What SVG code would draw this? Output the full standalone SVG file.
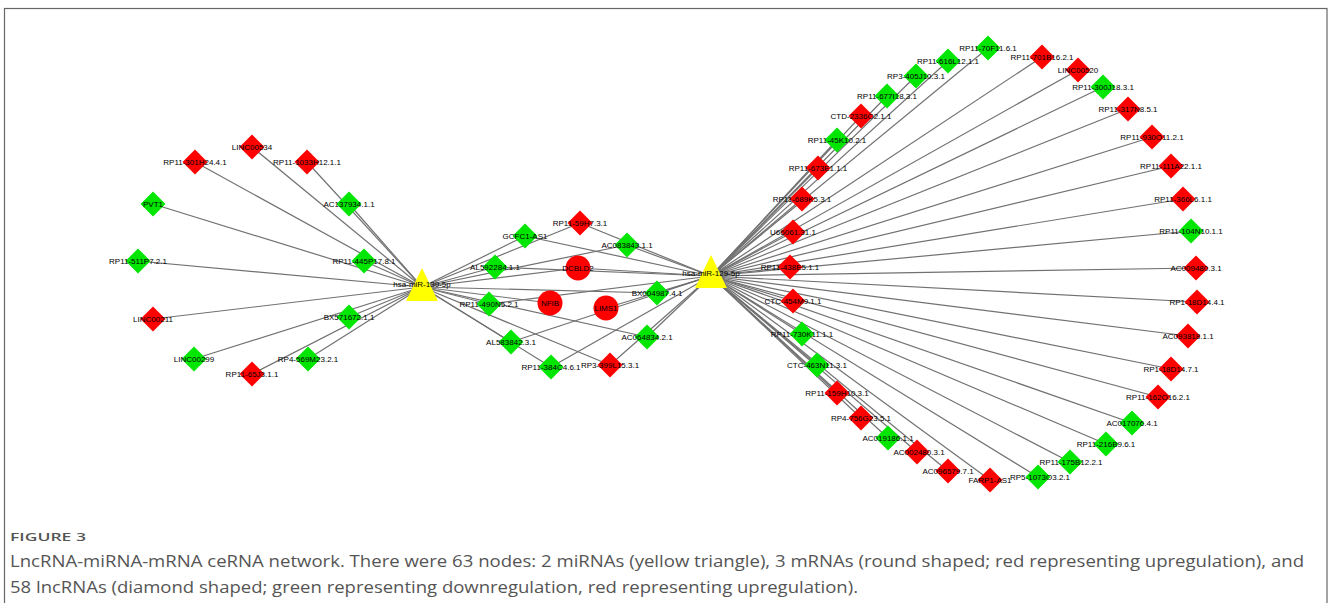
<svg xmlns="http://www.w3.org/2000/svg" xmlns:xlink="http://www.w3.org/1999/xlink" width="1328" height="603" viewBox="0 0 1328 603">
<style>
.e{stroke:#717171;stroke-width:1.2;fill:none}
.lb{font-family:"Liberation Sans",Arial,sans-serif;font-size:8px;fill:#000;text-anchor:middle;dominant-baseline:central}
.cap{font-family:"Open Sans","Liberation Sans",sans-serif;fill:#555}
</style>
<defs>
<polygon id="dr" points="0,-12.5 12.5,0 0,12.5 -12.5,0" fill="#FF0000"/>
<polygon id="dg" points="0,-12.5 12.5,0 0,12.5 -12.5,0" fill="#00E600"/>
<circle id="cr" r="12.5" fill="#FF0000"/>
<polygon id="tri" points="0,-19 -16,14 16,14" fill="#FFFF00"/>
</defs>
<rect x="4.5" y="8.5" width="1322.5" height="610" fill="#fff" stroke="#666" stroke-width="1.2"/>
<g id="connectors">
<line class="e" x1="422" y1="287" x2="252" y2="147"/>
<line class="e" x1="422" y1="287" x2="195" y2="162"/>
<line class="e" x1="422" y1="287" x2="307" y2="162"/>
<line class="e" x1="422" y1="287" x2="349" y2="204"/>
<line class="e" x1="422" y1="287" x2="153" y2="204"/>
<line class="e" x1="422" y1="287" x2="138" y2="261"/>
<line class="e" x1="422" y1="287" x2="364" y2="261"/>
<line class="e" x1="422" y1="287" x2="153" y2="319"/>
<line class="e" x1="422" y1="287" x2="349" y2="317"/>
<line class="e" x1="422" y1="287" x2="194" y2="359"/>
<line class="e" x1="422" y1="287" x2="308" y2="359"/>
<line class="e" x1="422" y1="287" x2="252" y2="374"/>
<line class="e" x1="422" y1="287" x2="525" y2="236"/>
<line class="e" x1="422" y1="287" x2="580" y2="223"/>
<line class="e" x1="422" y1="287" x2="627" y2="245"/>
<line class="e" x1="422" y1="287" x2="495" y2="267"/>
<line class="e" x1="422" y1="287" x2="657" y2="293"/>
<line class="e" x1="422" y1="287" x2="489" y2="304"/>
<line class="e" x1="422" y1="287" x2="511" y2="342"/>
<line class="e" x1="422" y1="287" x2="647" y2="337"/>
<line class="e" x1="422" y1="287" x2="551" y2="367"/>
<line class="e" x1="422" y1="287" x2="610" y2="365"/>
<line class="e" x1="422" y1="287" x2="578" y2="268"/>
<line class="e" x1="422" y1="287" x2="550" y2="303"/>
<line class="e" x1="711" y1="276" x2="525" y2="236"/>
<line class="e" x1="711" y1="276" x2="580" y2="223"/>
<line class="e" x1="711" y1="276" x2="627" y2="245"/>
<line class="e" x1="711" y1="276" x2="495" y2="267"/>
<line class="e" x1="711" y1="276" x2="657" y2="293"/>
<line class="e" x1="711" y1="276" x2="489" y2="304"/>
<line class="e" x1="711" y1="276" x2="511" y2="342"/>
<line class="e" x1="711" y1="276" x2="647" y2="337"/>
<line class="e" x1="711" y1="276" x2="551" y2="367"/>
<line class="e" x1="711" y1="276" x2="610" y2="365"/>
<line class="e" x1="711" y1="276" x2="578" y2="268"/>
<line class="e" x1="711" y1="276" x2="606" y2="308"/>
<line class="e" x1="711" y1="276" x2="988" y2="48"/>
<line class="e" x1="711" y1="276" x2="948" y2="61"/>
<line class="e" x1="711" y1="276" x2="916" y2="76"/>
<line class="e" x1="711" y1="276" x2="887" y2="96"/>
<line class="e" x1="711" y1="276" x2="861" y2="116"/>
<line class="e" x1="711" y1="276" x2="837" y2="140"/>
<line class="e" x1="711" y1="276" x2="818" y2="168"/>
<line class="e" x1="711" y1="276" x2="802" y2="199"/>
<line class="e" x1="711" y1="276" x2="793" y2="232"/>
<line class="e" x1="711" y1="276" x2="790" y2="267"/>
<line class="e" x1="711" y1="276" x2="793" y2="301"/>
<line class="e" x1="711" y1="276" x2="802" y2="334"/>
<line class="e" x1="711" y1="276" x2="817" y2="365"/>
<line class="e" x1="711" y1="276" x2="837" y2="393"/>
<line class="e" x1="711" y1="276" x2="861" y2="418"/>
<line class="e" x1="711" y1="276" x2="888" y2="438"/>
<line class="e" x1="711" y1="276" x2="917" y2="452"/>
<line class="e" x1="711" y1="276" x2="948" y2="471"/>
<line class="e" x1="711" y1="276" x2="990" y2="480"/>
<line class="e" x1="711" y1="276" x2="1038" y2="477"/>
<line class="e" x1="711" y1="276" x2="1070" y2="462"/>
<line class="e" x1="711" y1="276" x2="1106" y2="444"/>
<line class="e" x1="711" y1="276" x2="1132" y2="423"/>
<line class="e" x1="711" y1="276" x2="1158" y2="397"/>
<line class="e" x1="711" y1="276" x2="1171" y2="369"/>
<line class="e" x1="711" y1="276" x2="1188" y2="336"/>
<line class="e" x1="711" y1="276" x2="1197" y2="302"/>
<line class="e" x1="711" y1="276" x2="1196" y2="268"/>
<line class="e" x1="711" y1="276" x2="1191" y2="231"/>
<line class="e" x1="711" y1="276" x2="1183" y2="199"/>
<line class="e" x1="711" y1="276" x2="1171" y2="166"/>
<line class="e" x1="711" y1="276" x2="1152" y2="137"/>
<line class="e" x1="711" y1="276" x2="1128" y2="109"/>
<line class="e" x1="711" y1="276" x2="1103" y2="87"/>
<line class="e" x1="711" y1="276" x2="1078" y2="70"/>
<line class="e" x1="711" y1="276" x2="1042" y2="57"/>
</g>
<g id="n-LINC00534" transform="translate(252,147)"><use href="#dr"/><text class="lb">LINC00534</text></g>
<g id="n-RP11-301H24" transform="translate(195,162)"><use href="#dr"/><text class="lb">RP11-301H24.4.1</text></g>
<g id="n-RP11-1033H12" transform="translate(307,162)"><use href="#dr"/><text class="lb">RP11-1033H12.1.1</text></g>
<g id="n-AC137934" transform="translate(349,204)"><use href="#dg"/><text class="lb">AC137934.1.1</text></g>
<g id="n-PVT1" transform="translate(153,204)"><use href="#dg"/><text class="lb">PVT1</text></g>
<g id="n-RP11-511P7" transform="translate(138,261)"><use href="#dg"/><text class="lb">RP11-511P7.2.1</text></g>
<g id="n-RP11-445P17" transform="translate(364,261)"><use href="#dg"/><text class="lb">RP11-445P17.8.1</text></g>
<g id="n-LINC00211" transform="translate(153,319)"><use href="#dr"/><text class="lb">LINC00211</text></g>
<g id="n-BX571672" transform="translate(349,317)"><use href="#dg"/><text class="lb">BX571672.1.1</text></g>
<g id="n-LINC00299" transform="translate(194,359)"><use href="#dg"/><text class="lb">LINC00299</text></g>
<g id="n-RP4-569M23" transform="translate(308,359)"><use href="#dg"/><text class="lb">RP4-569M23.2.1</text></g>
<g id="n-RP11-65J3" transform="translate(252,374)"><use href="#dr"/><text class="lb">RP11-65J3.1.1</text></g>
<g id="n-GCFC1-AS1" transform="translate(525,236)"><use href="#dg"/><text class="lb">GCFC1-AS1</text></g>
<g id="n-RP11-59H7" transform="translate(580,223)"><use href="#dr"/><text class="lb">RP11-59H7.3.1</text></g>
<g id="n-AC083843" transform="translate(627,245)"><use href="#dg"/><text class="lb">AC083843.1.1</text></g>
<g id="n-AL592284" transform="translate(495,267)"><use href="#dg"/><text class="lb">AL592284.1.1</text></g>
<g id="n-BX004987" transform="translate(657,293)"><use href="#dg"/><text class="lb">BX004987.4.1</text></g>
<g id="n-RP11-490N5" transform="translate(489,304)"><use href="#dg"/><text class="lb">RP11-490N5.2.1</text></g>
<g id="n-AL583842" transform="translate(511,342)"><use href="#dg"/><text class="lb">AL583842.3.1</text></g>
<g id="n-AC064834" transform="translate(647,337)"><use href="#dg"/><text class="lb">AC064834.2.1</text></g>
<g id="n-RP11-384C4" transform="translate(551,367)"><use href="#dg"/><text class="lb">RP11-384C4.6.1</text></g>
<g id="n-RP3-399L15" transform="translate(610,365)"><use href="#dr"/><text class="lb">RP3-399L15.3.1</text></g>
<g id="n-DCBLD2" transform="translate(578,268)"><use href="#cr"/><text class="lb">DCBLD2</text></g>
<g id="n-NFIB" transform="translate(550,303)"><use href="#cr"/><text class="lb">NFIB</text></g>
<g id="n-LIMS1" transform="translate(606,308)"><use href="#cr"/><text class="lb">LIMS1</text></g>
<g id="n-miR-139" transform="translate(422,287)"><use href="#tri"/><text class="lb" y="-3">hsa-miR-139-5p</text></g>
<g id="n-miR-129" transform="translate(711,274)"><use href="#tri"/><text class="lb" y="-1">hsa-miR-129-5p</text></g>
<g id="n-RP11-70F11" transform="translate(988,48)"><use href="#dg"/><text class="lb">RP11-70F11.6.1</text></g>
<g id="n-RP11-616L12" transform="translate(948,61)"><use href="#dg"/><text class="lb">RP11-616L12.1.1</text></g>
<g id="n-RP3-405J10" transform="translate(916,76)"><use href="#dg"/><text class="lb">RP3-405J10.3.1</text></g>
<g id="n-RP11-677I18" transform="translate(887,96)"><use href="#dg"/><text class="lb">RP11-677I18.3.1</text></g>
<g id="n-CTD-2336O2" transform="translate(861,116)"><use href="#dr"/><text class="lb">CTD-2336O2.1.1</text></g>
<g id="n-RP11-45K10" transform="translate(837,140)"><use href="#dg"/><text class="lb">RP11-45K10.2.1</text></g>
<g id="n-RP11-673E1" transform="translate(818,168)"><use href="#dr"/><text class="lb">RP11-673E1.1.1</text></g>
<g id="n-RP11-689K5" transform="translate(802,199)"><use href="#dr"/><text class="lb">RP11-689K5.3.1</text></g>
<g id="n-U66061" transform="translate(793,232)"><use href="#dr"/><text class="lb">U66061.31.1</text></g>
<g id="n-RP11-438E5" transform="translate(790,267)"><use href="#dr"/><text class="lb">RP11-438E5.1.1</text></g>
<g id="n-CTC-454M9" transform="translate(793,301)"><use href="#dr"/><text class="lb">CTC-454M9.1.1</text></g>
<g id="n-RP11-730K11" transform="translate(802,334)"><use href="#dg"/><text class="lb">RP11-730K11.1.1</text></g>
<g id="n-CTC-463N11" transform="translate(817,365)"><use href="#dg"/><text class="lb">CTC-463N11.3.1</text></g>
<g id="n-RP11-159H10" transform="translate(837,393)"><use href="#dr"/><text class="lb">RP11-159H10.3.1</text></g>
<g id="n-RP4-756G23" transform="translate(861,418)"><use href="#dr"/><text class="lb">RP4-756G23.5.1</text></g>
<g id="n-AC019186" transform="translate(888,438)"><use href="#dg"/><text class="lb">AC019186.1.1</text></g>
<g id="n-AC002480" transform="translate(917,452)"><use href="#dr"/><text class="lb" x="2">AC002480.3.1</text></g>
<g id="n-AC096579" transform="translate(948,471)"><use href="#dr"/><text class="lb">AC096579.7.1</text></g>
<g id="n-FARP1-AS1" transform="translate(990,480)"><use href="#dr"/><text class="lb">FARP1-AS1</text></g>
<g id="n-RP5-1073O3" transform="translate(1038,477)"><use href="#dg"/><text class="lb" x="2">RP5-1073O3.2.1</text></g>
<g id="n-RP11-175B12" transform="translate(1070,462)"><use href="#dg"/><text class="lb" x="1">RP11-175B12.2.1</text></g>
<g id="n-RP11-216B9" transform="translate(1106,444)"><use href="#dg"/><text class="lb">RP11-216B9.6.1</text></g>
<g id="n-AC017076" transform="translate(1132,423)"><use href="#dg"/><text class="lb">AC017076.4.1</text></g>
<g id="n-RP11-162O16" transform="translate(1158,397)"><use href="#dr"/><text class="lb">RP11-162O16.2.1</text></g>
<g id="n-RP1-18D14-7" transform="translate(1171,369)"><use href="#dr"/><text class="lb">RP1-18D14.7.1</text></g>
<g id="n-AC093818" transform="translate(1188,336)"><use href="#dr"/><text class="lb">AC093818.1.1</text></g>
<g id="n-RP1-18D14-4" transform="translate(1197,302)"><use href="#dr"/><text class="lb">RP1-18D14.4.1</text></g>
<g id="n-AC009480" transform="translate(1196,268)"><use href="#dr"/><text class="lb">AC009480.3.1</text></g>
<g id="n-RP11-104N10" transform="translate(1191,231)"><use href="#dg"/><text class="lb">RP11-104N10.1.1</text></g>
<g id="n-RP11-366L6" transform="translate(1183,199)"><use href="#dr"/><text class="lb">RP11-366L6.1.1</text></g>
<g id="n-RP11-111A22" transform="translate(1171,166)"><use href="#dr"/><text class="lb">RP11-111A22.1.1</text></g>
<g id="n-RP11-930O11" transform="translate(1152,137)"><use href="#dr"/><text class="lb">RP11-930O11.2.1</text></g>
<g id="n-RP11-317N8" transform="translate(1128,109)"><use href="#dr"/><text class="lb">RP11-317N8.5.1</text></g>
<g id="n-RP11-300J18" transform="translate(1103,87)"><use href="#dg"/><text class="lb">RP11-300J18.3.1</text></g>
<g id="n-LINC00520" transform="translate(1078,70)"><use href="#dr"/><text class="lb">LINC00520</text></g>
<g id="n-RP11-701B16" transform="translate(1042,57)"><use href="#dr"/><text class="lb">RP11-701B16.2.1</text></g>
<g id="caption">
<text class="cap" x="10" y="541" font-size="11.5" font-weight="600" textLength="76" lengthAdjust="spacingAndGlyphs">FIGURE 3</text>
<text class="cap" x="10" y="567" font-size="16" textLength="1294" lengthAdjust="spacingAndGlyphs">LncRNA-miRNA-mRNA ceRNA network. There were 63 nodes: 2 miRNAs (yellow triangle), 3 mRNAs (round shaped; red representing upregulation), and</text>
<text class="cap" x="10" y="593" font-size="16" textLength="848" lengthAdjust="spacingAndGlyphs">58 lncRNAs (diamond shaped; green representing downregulation, red representing upregulation).</text>
</g>
</svg>
